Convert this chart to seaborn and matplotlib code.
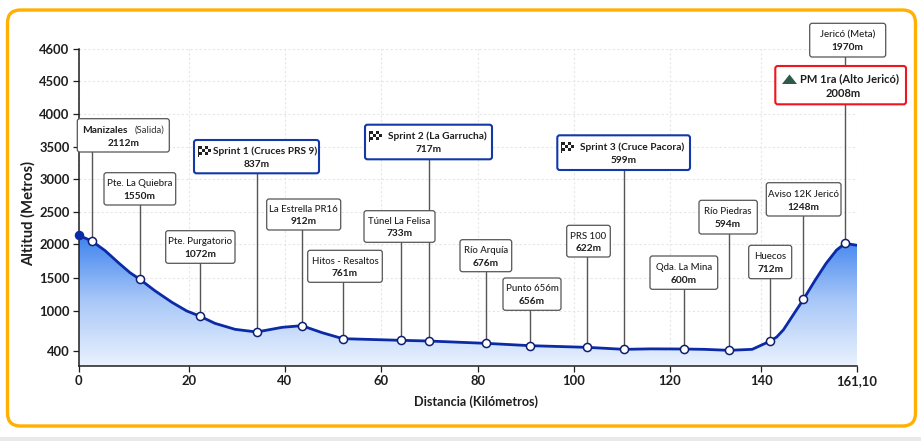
import numpy as np
import pandas as pd
import matplotlib
matplotlib.use('Agg')
import matplotlib.pyplot as plt
import seaborn as sns
from matplotlib.patches import FancyBboxPatch, Polygon, Rectangle
from matplotlib.transforms import Affine2D

# puntos de la etapa (km, altura dibujada, texto)
names = ['Manizales', 'Pte. La Quiebra', 'Pte. Purgatorio', 'Sprint 1 (Cruces PRS 9)', 'La Estrella PR16',
         'Hitos - Resaltos', 'Túnel La Felisa', 'Sprint 2 (La Garrucha)', 'Río Arquía', 'Punto 656m',
         'PRS 100', 'Sprint 3 (Cruce Pacora)', 'Qda. La Mina', 'Río Piedras', 'Huecos',
         'Aviso 12K Jericó', 'Jericó (Meta)']
label_alt = [2112, 1550, 1072, 837, 912, 761, 733, 717, 676, 656, 622, 599, 600, 594, 712, 1248, 1970]
stop_km = [2.4, 11.1, 22.2, 34.1, 43.5, 52, 64.1, 69.8, 81.7, 90.9, 102.8, 110.4, 123, 132.9, 142, 149.3, 158.5]
stop_alt = [2050, 1480, 925, 685, 780, 585, 560, 550, 515, 480, 455, 425, 430, 410, 550, 1177, 2015]

# perfil
profile_km = [0, 2.4, 4.8, 7.2, 9.3, 11.1, 13.8, 16.9, 19.6, 22.2, 25.4, 29.6, 34.1, 39.4, 43.5, 47.7, 52, 64.1,
              69.8, 81.7, 90.9, 102.8, 110.4, 116, 123, 127.5, 132.9, 138, 142, 143.4, 144.9, 147.4, 149.3, 151.8,
              154.3, 156.6, 158.5, 161.1]
profile_alt = [2140, 2050, 1905, 1727, 1579, 1480, 1308, 1132, 1000, 925, 815, 725, 685, 755, 780, 675, 585, 560,
               550, 515, 480, 455, 425, 432, 430, 425, 410, 425, 550, 610, 720, 980, 1177, 1459,
               1718, 1915, 2015, 1985]

x_ticks = [0, 20, 40, 60, 80, 100, 120, 140, 161.1]
x_tick_labels = ['0', '20', '40', '60', '80', '100', '120', '140', '161,10']
y_ticks = [400, 1000, 1500, 2000, 2500, 3000, 3500, 4000, 4500, 4600]

# cajas en pixeles de la imagen: x0, y0, x1, y1
boxes = [(77.3, 118.7, 169.3, 152), (104, 172.7, 175.7, 205), (165.7, 230.7, 235, 263.3), (194, 140, 319, 173.3),
         (266.7, 199, 340.7, 230), (307.7, 250.3, 382.3, 282.3), (364, 210.7, 435, 242.3), (365, 124.7, 492, 159.3),
         (460, 239.7, 511.7, 271.7), (503, 278, 561, 310.3), (566.7, 225.3, 610.3, 257), (557.3, 135.3, 690, 170),
         (650, 256, 717.7, 289.3), (699, 200.3, 757.3, 234), (748.7, 245.3, 791.7, 278.7), (766.3, 182.7, 841, 216),
         (809.7, 23.3, 885.7, 57)]
sprints = {3, 7, 11}

W, H = 921, 441
L, R, T, B = 78.7, 857, 49, 366
# los ejes del original no son lineales
x_px = [78.7, 189, 285, 381.3, 477.7, 573.7, 670, 761.3, 857]
y_px = [366, 351, 311, 278, 244.3, 212, 179.3, 146.7, 114, 81, 49]
y_vals = [0] + y_ticks


def x_fwd(v):
    return np.interp(v, x_ticks, x_px)


def x_inv(p):
    return np.interp(p, x_px, x_ticks)


def y_fwd(v):
    return np.interp(v, y_vals, -np.array(y_px))


def y_inv(p):
    return np.interp(p, -np.array(y_px), y_vals)


sns.set_theme(style='whitegrid')
plt.rcParams['font.family'] = ['Lato', 'DejaVu Sans']
dark = '#1e1e1e'
font = 6.9
font_bold = 7.3

fig = plt.figure(figsize=(W / 100, H / 100), dpi=100, facecolor='white')
ax = fig.add_axes([L / W, 1 - B / H, (R - L) / W, (B - T) / H])
px = Affine2D().scale(1, -1).translate(0, H)

# marco naranja
fig.add_artist(Rectangle((0, 437), W, 4, transform=px, fc='#e9e9e9', ec='none'))
fig.add_artist(FancyBboxPatch((7.5, 10), 908, 416, boxstyle='round,pad=0,rounding_size=13',
                              transform=px, fc='white', ec='#ffb000', lw=2.4, zorder=0))

ax.set_xscale('function', functions=(x_fwd, x_inv))
ax.set_yscale('function', functions=(y_fwd, y_inv))
ax.patch.set_alpha(0)

# area con degradado
area = ax.fill_between(profile_km, profile_alt, 0, color='none')
grad = np.linspace(0, 1, 256).reshape(-1, 1)
cmap = matplotlib.colors.LinearSegmentedColormap.from_list('g', ['#3f83ee', '#a9c8f8', '#eaf2fe'])
im = ax.imshow(grad, cmap=cmap, extent=(0, 1, 0, 130 / (B - T)), transform=ax.transAxes, aspect='auto', zorder=1)
im.set_clip_path(area.get_paths()[0], ax.transData)

df = pd.DataFrame({'km': profile_km, 'alt': profile_alt})
stops = pd.DataFrame({'km': stop_km, 'alt': stop_alt})
sns.lineplot(data=df, x='km', y='alt', color='#0b2aa5', lw=2, ax=ax, zorder=3, sort=False, estimator=None)

ax.set_xlim(0, 161.1)
ax.set_ylim(0, 4600)
ax.set_xticks(x_ticks, x_tick_labels)
ax.set_yticks(y_ticks)
ax.grid(True, color='#e6e6e6', ls=(0, (2, 2)), lw=0.8)
ax.set_axisbelow(True)
sns.despine(ax=ax)
for s in ['left', 'bottom']:
    ax.spines[s].set_color(dark)
    ax.spines[s].set_linewidth(1.1)
ax.tick_params(axis='both', length=4, width=0.9, color=dark, labelcolor=dark, labelsize=9.4, pad=2.5, bottom=True, left=True)
for t in ax.get_xticklabels() + ax.get_yticklabels():
    t.set_fontweight('bold')

fig.text(476.5, 402, 'Distancia (Kilómetros)', transform=px, ha='center', va='center', fontsize=9.1, fontweight='bold', color=dark)
fig.text(28, 213, 'Altitud (Metros)', transform=px, rotation=90, ha='center', va='center', fontsize=10.6, fontweight='bold', color=dark)

# lineas verticales hasta cada caja
for km, alt, b in zip(stop_km, stop_alt, boxes):
    ax.plot([km, km], [alt, y_inv(-b[3])], color='#555555', lw=1, zorder=2)

sns.scatterplot(data=stops, x='km', y='alt', s=34, color='white', edgecolor='#0f1f6e', linewidth=1.1, ax=ax, zorder=4, clip_on=False)
ax.scatter([profile_km[0]], [profile_alt[0]], s=34, color='#0b2aa5', zorder=5, clip_on=False)
ax.set_xlabel('')
ax.set_ylabel('')


def draw_box(b, ec, lw):
    fig.add_artist(FancyBboxPatch((b[0], b[1]), b[2] - b[0], b[3] - b[1], boxstyle='round,pad=0,rounding_size=2.5',
                                  transform=px, fc='white', ec=ec, lw=lw, zorder=6))


def flag(x, y):
    # bandera a cuadros, 4x3 casillas
    fig.add_artist(Rectangle((x - 1, y), 0.9, 11, transform=px, fc='#222222', ec='none', zorder=7))
    for i in range(4):
        for j in range(3):
            c = '#222222' if (i + j) % 2 == 0 else 'white'
            fig.add_artist(Rectangle((x + i * 3, y + j * 3), 3, 3, transform=px, fc=c, ec='none', zorder=7))


for i, (name, alt, b) in enumerate(zip(names, label_alt, boxes)):
    cx = (b[0] + b[2]) / 2
    y1 = b[1] + (b[3] - b[1]) * 0.34
    y2 = b[1] + (b[3] - b[1]) * 0.73
    if i in sprints:
        draw_box(b, '#1338a8', 1.5)
        flag(b[0] + 5, y1 - 5)
        fig.text(cx + 8.5, y1, name, transform=px, ha='center', va='center', fontsize=font_bold, fontweight='bold', color=dark, zorder=8)
    elif i == 0:
        draw_box(b, '#555555', 0.9)
        fig.text(b[0] + 5, y1, 'Manizales', transform=px, ha='left', va='center', fontsize=font_bold, fontweight='bold', color=dark, zorder=8)
        fig.text(b[2] - 4.5, y1, '(Salida)', transform=px, ha='right', va='center', fontsize=font, color='#333333', zorder=8)
    else:
        draw_box(b, '#555555', 0.9)
        fig.text(cx, y1, name, transform=px, ha='center', va='center', fontsize=font, fontweight='medium', color=dark, zorder=8)
    fig.text(cx, y2, f'{alt}m', transform=px, ha='center', va='center', fontsize=font_bold, fontweight='bold', color=dark, zorder=8)

# premio de montana
pm = (775.3, 66, 906, 104.3)
draw_box(pm, '#f0141e', 1.5)
fig.add_artist(Polygon([(782, 84), (789.5, 74.5), (797, 84)], transform=px, fc='#2f5a4a', ec='none', zorder=7))
fig.text(849, 79, 'PM 1ra (Alto Jericó)', transform=px, ha='center', va='center', fontsize=8, fontweight='bold', color=dark, zorder=8)
fig.text(843.5, 93.5, '2008m', transform=px, ha='center', va='center', fontsize=8, fontweight='bold', color=dark, zorder=8)

fig.savefig('out.png', dpi=100)
